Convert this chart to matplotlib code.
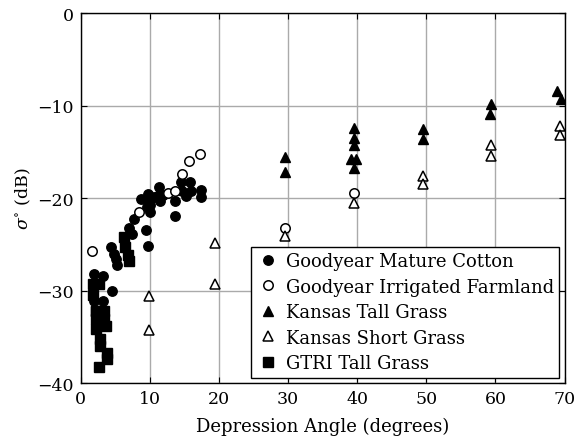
import matplotlib
matplotlib.use("Agg")
import matplotlib.pyplot as plt

plt.rcParams['font.family'] = 'DejaVu Serif'
plt.rcParams['mathtext.fontset'] = 'dejavuserif'

# Goodyear Mature Cotton
cotton_x = [8.7, 9.7, 9.9, 10.0, 10.0, 10.6, 11.3, 11.3, 11.5, 12.0, 13.7, 13.7,
            14.6, 14.7, 15.3, 15.8, 16.0, 17.4, 17.4, 7.7, 7.0, 7.5, 9.4, 9.6,
            9.8, 4.4, 4.9, 5.1, 5.3, 2.0, 3.2, 4.6, 2.0, 3.2]
cotton_y = [-20.1, -19.6, -20.3, -20.8, -21.5, -19.9, -18.8, -19.7, -20.3, -19.7,
            -20.3, -21.9, -18.3, -19.2, -19.8, -18.3, -19.2, -19.1, -19.9, -22.3,
            -23.2, -23.9, -23.4, -21.0, -25.2, -25.3, -26.0, -26.6, -27.2, -28.2,
            -28.4, -30.0, -31.1, -31.1]

# Goodyear Irrigated Farmland
farm_x = [1.7, 8.5, 12.6, 13.6, 14.7, 15.7, 17.3, 29.5, 39.5]
farm_y = [-25.7, -21.5, -19.5, -19.2, -17.4, -16.0, -15.2, -23.2, -19.5]

# Kansas Tall Grass
ktall_x = [29.6, 29.6, 39.6, 39.6, 39.5, 39.1, 39.8, 39.6, 49.5, 49.5,
           59.4, 59.2, 68.9, 69.5]
ktall_y = [-15.6, -17.2, -12.4, -13.5, -14.3, -15.8, -15.8, -16.7, -12.5, -13.6,
           -9.8, -10.9, -8.4, -9.3]

# Kansas Short Grass
kshort_x = [9.9, 9.9, 19.5, 19.5, 29.5, 39.6, 49.5, 49.5, 59.3, 59.3, 69.3, 69.3]
kshort_y = [-30.6, -34.3, -24.9, -29.3, -24.1, -20.5, -17.6, -18.5,
            -14.3, -15.4, -12.2, -13.2]

# GTRI Tall Grass
gtri_x = [6.3, 6.5, 6.8, 7.0, 1.8, 2.7, 1.8, 2.2, 2.2, 3.4, 2.2, 3.4, 3.7,
          2.2, 2.8, 2.8, 3.9, 3.9, 2.7]
gtri_y = [-24.2, -25.3, -26.1, -26.8, -29.3, -29.3, -30.5, -32.2, -32.2, -32.2,
          -33.1, -33.1, -33.8, -34.2, -35.2, -36.0, -36.7, -37.4, -38.3]

fig = plt.figure(figsize=(5.75, 4.39), dpi=100)
ax = fig.add_axes([0.14, 0.125, 0.842, 0.843])

ms = 6.8
ax.plot(cotton_x, cotton_y, 'o', color='black', ms=ms, label='Goodyear Mature Cotton')
ax.plot(farm_x, farm_y, 'o', mfc='white', mec='black', mew=1.1, ms=ms,
        label='Goodyear Irrigated Farmland')
ax.plot(ktall_x, ktall_y, '^', color='black', ms=ms + 0.5, label='Kansas Tall Grass')
ax.plot(kshort_x, kshort_y, '^', mfc='white', mec='black', mew=1.1, ms=ms + 0.5,
        label='Kansas Short Grass')
ax.plot(gtri_x, gtri_y, 's', color='black', ms=ms, label='GTRI Tall Grass')

ax.set_xlim(0, 70)
ax.set_ylim(-40, 0)
ax.set_xticks(range(0, 71, 10))
ax.set_yticks(range(-40, 1, 10))
ax.grid(True, color='#aaaaaa', linewidth=1.0)
ax.set_axisbelow(True)
ax.tick_params(direction='in', labelsize=12.5, length=4, pad=5, top=True, right=True)
for s in ax.spines.values():
    s.set_linewidth(1.0)

ax.set_xlabel('Depression Angle (degrees)', fontsize=13, labelpad=7)
ax.set_ylabel(r'$\sigma^{\circ}$ (dB)', fontsize=12.5, labelpad=3)

leg = ax.legend(loc='lower right', fontsize=13, frameon=True, fancybox=False,
                edgecolor='black', framealpha=1, handletextpad=0.4,
                borderpad=0.3, labelspacing=0.42, handlelength=1.2,
                borderaxespad=0.3)
leg.get_frame().set_linewidth(1.0)

fig.savefig('out.png', dpi=100)
